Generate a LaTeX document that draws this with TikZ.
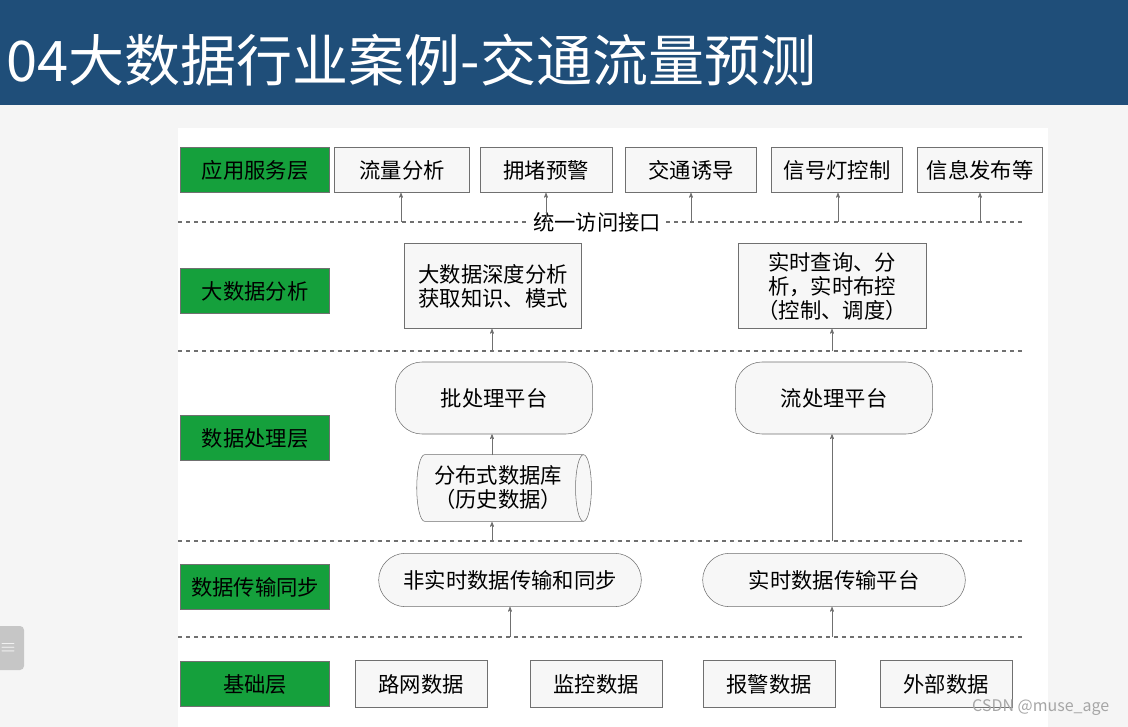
\documentclass[tikz,border=0pt]{standalone}
\usepackage{fontspec}
\setmainfont{Noto Sans CJK SC}
\usetikzlibrary{arrows,shapes.geometric}
\definecolor{bandblue}{HTML}{1F4E79}
\definecolor{layergreen}{HTML}{15A03C}
\definecolor{edgegray}{HTML}{707070}
\tikzset{
  layer/.style={draw=edgegray, fill=layergreen, minimum width=112pt, minimum height=34pt, font=\fontsize{16}{18}\selectfont},
  item/.style={draw=edgegray, fill=gray!6, minimum height=34pt, font=\fontsize{16}{18}\selectfont},
  pill/.style={draw=edgegray, fill=gray!6, rounded corners=20pt, font=\fontsize{16}{18}\selectfont},
  base/.style={draw=edgegray, fill=gray!6, minimum width=99pt, minimum height=35pt, font=\fontsize{16}{18}\selectfont},
  sep/.style={dashed, edgegray, line width=0.8pt},
  up/.style={->, >=stealth', edgegray}
}
\begin{document}
\begin{tikzpicture}[x=0.75pt, y=-0.75pt]
    \useasboundingbox (0,0) rectangle (1128,727);
    % background and band
    \fill [gray!8] (0,0) rectangle (1128,727);
    \fill [white] (178,128) rectangle (1048,727);
    \fill [bandblue] (0,0) rectangle (1128,105);
    \node [anchor=west, text=white, font=\fontsize{42}{46}\selectfont] (title) at (2,60) {04大数据行业案例-交通流量预测};
    \fill [gray!45, rounded corners=3pt] (-5,626) rectangle (24,670);
    \node [text=white, font=\fontsize{14}{14}\selectfont] (tab) at (8,648) {$\equiv$};

    % Layers
    \node [layer] (l1) at (255,170) {应用服务层};
    \node [layer] (l2) at (255,291) {大数据分析};
    \node [layer] (l3) at (255,438) {数据处理层};
    \node [layer] (l4) at (255,587) {数据传输同步};
    \node [layer] (l5) at (255,684) {基础层};

    % Separators
    \coordinate (s1a) at (178,222); \coordinate (s1b) at (1022,222);
    \coordinate (s2a) at (178,351); \coordinate (s2b) at (1022,351);
    \coordinate (s3a) at (178,541); \coordinate (s3b) at (1022,541);
    \coordinate (s4a) at (178,637); \coordinate (s4b) at (1022,637);
    \draw [sep] (s1a) -- (s1b);
    \draw [sep] (s2a) -- (s2b);
    \draw [sep] (s3a) -- (s3b);
    \draw [sep] (s4a) -- (s4b);
    \node [fill=white, inner sep=2pt, font=\fontsize{16}{18}\selectfont] (api) at (597,222) {统一访问接口};

    % Application services
    \node [item, minimum width=101pt] (a1) at (402,170) {流量分析};
    \node [item, minimum width=99pt]  (a2) at (546,170) {拥堵预警};
    \node [item, minimum width=98pt]  (a3) at (691,170) {交通诱导};
    \node [item, minimum width=98pt]  (a4) at (837,170) {信号灯控制};
    \node [item, minimum width=94pt]  (a5) at (980,170) {信息发布等};
    \foreach \n/\x in {a1/401,a2/546,a3/691,a4/838,a5/980}
        \draw [up] (\x,222) -- (\n.south -| \x,0);

    % Big data analysis
    \node [item, minimum width=133pt, minimum height=64pt, align=center] (b1) at (493,286) {大数据深度分析\\获取知识、模式};
    \node [item, minimum width=141pt, minimum height=64pt, align=center] (b2) at (832,286) {实时查询、分\\析，实时布控\\（控制、调度）};
    \draw [up] (492,351) -- (b1.south -| 492,0);
    \draw [up] (832,351) -- (b2.south -| 832,0);

    % Processing
    \node [pill, minimum width=148pt, minimum height=54pt] (p1) at (494,398) {批处理平台};
    \node [pill, minimum width=148pt, minimum height=54pt] (p2) at (834,398) {流处理平台};
    \node [cylinder, draw=edgegray, fill=gray!6, shape aspect=0.3, minimum width=50pt, minimum height=131pt, inner xsep=1pt, align=center, font=\fontsize{16}{18}\selectfont] (db) at (498,488) {分布式数据库\\（历史数据）};
    \draw [up] (492,455) -- (p1.south -| 492,0);
    \draw [up] (492,541) -- (492,522);
    \draw [up] (832,541) -- (p2.south -| 832,0);

    % Transmission
    \node [pill, minimum width=197pt, minimum height=40pt] (t1) at (510,580) {非实时数据传输和同步};
    \node [pill, minimum width=197pt, minimum height=40pt] (t2) at (834,580) {实时数据传输平台};
    \draw [up] (510,637) -- (t1.south -| 510,0);
    \draw [up] (832,637) -- (t2.south -| 832,0);

    % Base
    \node [base] (d1) at (421,684) {路网数据};
    \node [base] (d2) at (596,684) {监控数据};
    \node [base] (d3) at (769,684) {报警数据};
    \node [base] (d4) at (946,684) {外部数据};

    \node [anchor=east, text=gray!70, font=\fontsize{12}{14}\selectfont] (mark) at (1114,708) {CSDN @muse\_age};
\end{tikzpicture}
\end{document}
